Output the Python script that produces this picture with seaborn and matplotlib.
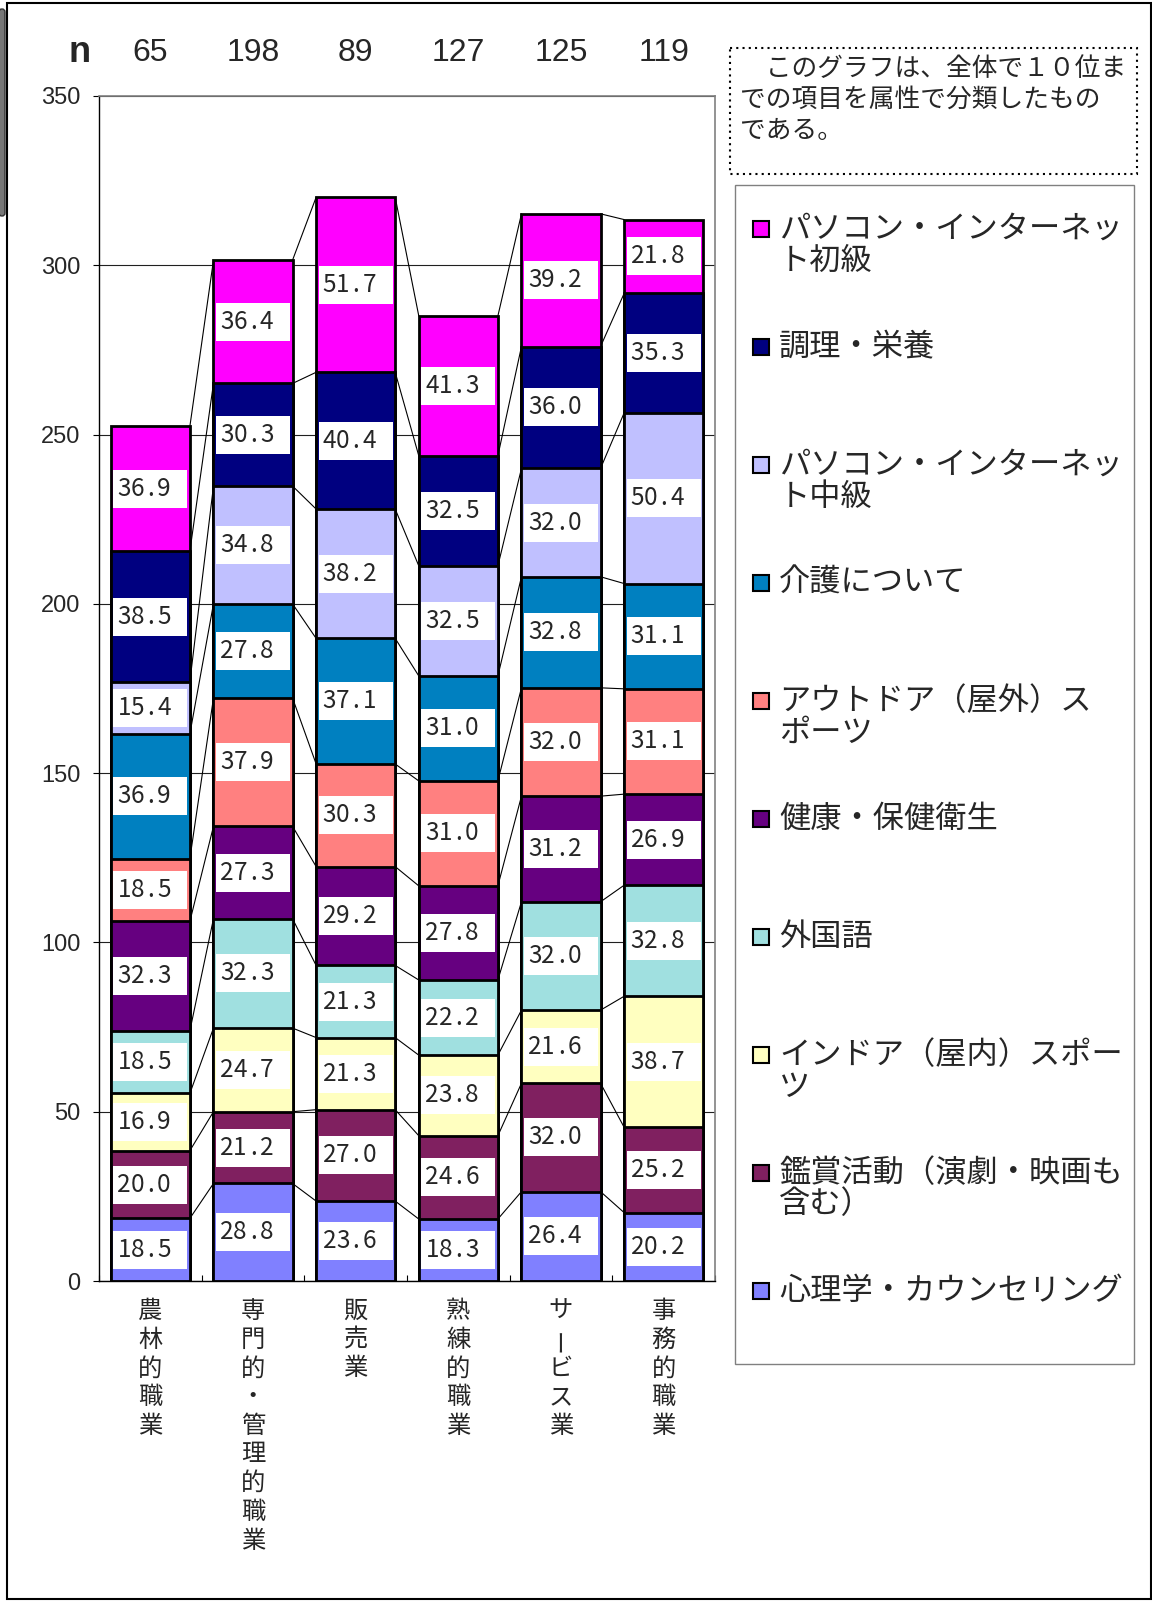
import numpy as np
import pandas as pd
import matplotlib
matplotlib.use("Agg")
import matplotlib.pyplot as plt
from matplotlib import font_manager
from matplotlib.patches import Rectangle, FancyBboxPatch
import seaborn as sns

sns.set_style("white")
plt.rcParams['font.family'] = ['Noto Sans CJK JP', 'DejaVu Sans']

installed = {f.name for f in font_manager.fontManager.ttflist}
NARROW = 'Liberation Sans Narrow' if 'Liberation Sans Narrow' in installed else 'Liberation Sans'

# categories (x axis) and respondents
categories = ['農林的職業', '専門的・管理的職業', '販売業', '熟練的職業', 'サービス業', '事務的職業']
n_counts = [65, 198, 89, 127, 125, 119]

# series, bottom of the stack first
series = ['心理学・カウンセリング', '鑑賞活動（演劇・映画も含む）', 'インドア（屋内）スポーツ', '外国語',
          '健康・保健衛生', 'アウトドア（屋外）スポーツ', '介護について',
          'パソコン・インターネット中級', '調理・栄養', 'パソコン・インターネット初級']

shinri = [18.5, 28.8, 23.6, 18.3, 26.4, 20.2]
kansho = [20.0, 21.2, 27.0, 24.6, 32.0, 25.2]
indoor = [16.9, 24.7, 21.3, 23.8, 21.6, 38.7]
gaikokugo = [18.5, 32.3, 21.3, 22.2, 32.0, 32.8]
kenko = [32.3, 27.3, 29.2, 27.8, 31.2, 26.9]
outdoor = [18.5, 37.9, 30.3, 31.0, 32.0, 31.1]
kaigo = [36.9, 27.8, 37.1, 31.0, 32.8, 31.1]
pc_chu = [15.4, 34.8, 38.2, 32.5, 32.0, 50.4]
chori = [38.5, 30.3, 40.4, 32.5, 36.0, 35.3]
pc_sho = [36.9, 36.4, 51.7, 41.3, 39.2, 21.8]

colors = ['#8080FF', '#802060', '#FFFFC0', '#A0E0E0', '#660080',
          '#FF8080', '#0080C0', '#C0C0FF', '#000080', '#FF00FF']

# legend text as wrapped in the reference (top of stack first)
legend_lines = [['パソコン・インターネッ', 'ト初級'], ['調理・栄養'], ['パソコン・インターネッ', 'ト中級'],
                ['介護について'], ['アウトドア（屋外）ス', 'ポーツ'], ['健康・保健衛生'], ['外国語'],
                ['インドア（屋内）スポー', 'ツ'], ['鑑賞活動（演劇・映画も', '含む）'], ['心理学・カウンセリング']]

note_lines = ['　このグラフは、全体で１０位ま', 'での項目を属性で分類したもの', 'である。']

values = [shinri, kansho, indoor, gaikokugo, kenko, outdoor, kaigo, pc_chu, chori, pc_sho]
rows = []
for s, vals in zip(series, values):
    for c, v in zip(categories, vals):
        rows.append({'series': s, 'category': c, 'value': v})
df = pd.DataFrame(rows)
df['series'] = pd.Categorical(df['series'], series, ordered=True)
df = df.sort_values(['category', 'series'])
df['top'] = df.groupby('category', sort=False)['value'].cumsum()
df['mid'] = df['top'] - df['value'] / 2

W, H = 1152, 1602
fig = plt.figure(figsize=(W / 100, H / 100), dpi=100)

# pixel-coordinate overlay for frame, note and legend
bg = fig.add_axes([0, 0, 1, 1])
bg.set_xlim(0, W)
bg.set_ylim(H, 0)
bg.axis('off')

ax = fig.add_axes([99 / W, 1 - 1281 / H, 616 / W, (1281 - 96) / H])

bar_w = 0.77
for k in reversed(range(len(series))):
    sub = df[df['series'] == series[k]]
    sns.barplot(data=sub, x='category', y='top', order=categories, color=colors[k],
                saturation=1, width=bar_w, edgecolor='black', linewidth=2,
                errorbar=None, ax=ax, zorder=2)

# series lines between bars
for s in series:
    tops = df[df['series'] == s].set_index('category').loc[categories, 'top'].values
    for i in range(len(categories) - 1):
        ax.plot([i + bar_w / 2, i + 1 - bar_w / 2], [tops[i], tops[i + 1]],
                color='black', lw=0.8, zorder=1.5)

# value labels in white boxes, digits on a fixed half-width grid
px = 0.72
cell = 13.3
box_h = 38 / ((1281 - 96) / 350)
for _, r in df.iterrows():
    i = categories.index(r['category'])
    ax.add_patch(Rectangle((i - 0.36, r['mid'] - box_h / 2), 0.72, box_h,
                           facecolor='white', edgecolor='none', zorder=3))
    for c_i, ch in enumerate(f"{r['value']:.1f}"):
        ax.annotate(ch, xy=(i - 0.32, r['mid']), xycoords='data',
                    xytext=((c_i + 0.5) * cell * px, 0), textcoords='offset points',
                    ha='center', va='center', fontsize=17.5, zorder=4)

ax.set_xlim(-0.5, 5.5)
ax.set_ylim(0, 350)
ax.set_xlabel('')
ax.set_ylabel('')
ax.set_yticks(range(0, 351, 50))
ax.set_yticklabels([str(v) for v in range(0, 351, 50)], fontsize=17, family='Liberation Sans')
ax.tick_params(axis='y', direction='out', length=4.3, width=0.8, color='black', pad=9, left=True)
ax.set_xticks(np.arange(-0.5, 6, 1))
ax.set_xticklabels([])
ax.tick_params(axis='x', direction='in', length=4, width=0.8, color='black', bottom=True)
ax.set_axisbelow(True)
ax.yaxis.grid(True, color='#202020', lw=0.8)
ax.xaxis.grid(False)
for side in ['top', 'right']:
    ax.spines[side].set_color('#808080')
    ax.spines[side].set_linewidth(1.2)
for side in ['left', 'bottom']:
    ax.spines[side].set_color('black')
    ax.spines[side].set_linewidth(1)

# vertical category labels
for i, cat in enumerate(categories):
    for j, ch in enumerate(cat):
        ax.annotate(ch, xy=(i, 0), xycoords='data',
                    xytext=(0, -(30 + j * 28.7) * px), textcoords='offset points',
                    ha='center', va='center', fontsize=17.5,
                    rotation=90 if ch == 'ー' else 0, annotation_clip=False)

# n row
bg.text(80, 53, 'n', ha='center', va='center', fontsize=26, family=NARROW, fontweight='bold')
for i, n in enumerate(n_counts):
    ax.annotate(str(n), xy=(i, 1), xycoords=('data', 'axes fraction'),
                xytext=(0, 43 * px), textcoords='offset points',
                ha='center', va='center', fontsize=26 if NARROW != 'Liberation Sans' else 23,
                family=NARROW, annotation_clip=False)

# outer frame and left edge strip
bg.add_patch(Rectangle((7, 3), 1144, 1596, facecolor='none', edgecolor='black', lw=1.5))
bg.add_patch(FancyBboxPatch((0, 10), 4, 205, boxstyle='round,pad=1,rounding_size=3',
                            facecolor='#777777', edgecolor='#333333', lw=1))

# note box
bg.add_patch(Rectangle((730, 48), 407, 126, facecolor='white', edgecolor='black',
                       lw=1.5, linestyle=(0, (1, 2))))
for j, line in enumerate(note_lines):
    bg.text(740, 69 + j * 31, line, ha='left', va='center', fontsize=18.5)

# legend
bg.add_patch(Rectangle((735, 185), 399, 1179, facecolor='white', edgecolor='#808080', lw=1))
for idx, lines in enumerate(legend_lines):
    k = len(series) - 1 - idx
    y0 = 229 + idx * 118
    bg.add_patch(Rectangle((753, y0 - 8), 16, 16, facecolor=colors[k], edgecolor='black', lw=1.5))
    for j, line in enumerate(lines):
        bg.text(779, y0 + j * 31.5, line, ha='left', va='center', fontsize=22.5)

fig.savefig('out.png', dpi=100)
